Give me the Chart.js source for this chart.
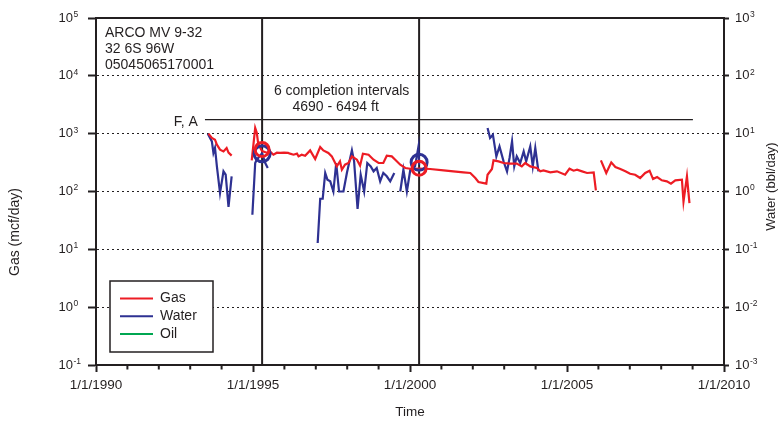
<!DOCTYPE html>
<html><head><meta charset="utf-8">
<script src="https://cdn.jsdelivr.net/npm/chart.js@4.4.1/dist/chart.umd.min.js"></script>
<style>html,body{margin:0;padding:0;background:#fff}canvas{display:block}</style>
</head><body>
<canvas id="c" width="780" height="428"></canvas>
<script>
const FONT = '"Liberation Sans", Arial, Helvetica, sans-serif';
const INK = '#231f20';
const RED = '#ed1c24';
const BLUE = '#2e3192';
const GREEN = '#00a651';

// ---- data (decimal years, values) ----
const gasYears = [1993.58,1993.69,1993.79,1993.85,1993.95,1994.06,1994.16,1994.22,1994.32,1994.6,
1994.96,1995.07,1995.12,1995.17,1995.29,1995.44,1995.54,1995.65,1995.76,1995.86,1995.99,1996.12,1996.18,1996.29,1996.40,1996.45,1996.55,1996.66,1996.82,1996.98,
1997.14,1997.24,1997.40,1997.51,1997.67,1997.77,1997.83,1997.93,1998.04,1998.15,1998.31,1998.41,1998.50,1998.68,1998.84,1999.00,1999.15,1999.26,1999.42,1999.53,
1999.69,1999.85,2000.06,2000.29,2000.64,2001.07,2001.38,2001.70,2001.92,2002.08,2002.18,2002.43,2002.47,2002.61,2002.66,2002.82,2002.98,2003.19,2003.40,2003.56,
2003.67,2003.83,2004.04,2004.15,2004.25,2004.47,2004.68,2004.94,2005.08,2005.21,2005.32,2005.48,2005.64,2005.85,2005.92,2006.00,
2006.08,2006.25,2006.41,2006.54,2006.70,2006.86,2007.01,2007.17,2007.33,2007.49,2007.63,2007.74,2007.87,2008.02,2008.18,2008.31,2008.45,2008.66,2008.71,2008.82,2008.90];
const gasValues = [1000,843,787,645,529,494,566,470,417,null,
345,1256,1040,645,500,469,494,433,469,464,469,464,451,433,451,405,433,416,514,365,
589,514,464,405,272,332,238,291,311,405,355,279,451,433,355,311,311,416,405,355,
291,255,245,250,245,232,223,214,209,171,146,137,195,245,345,332,311,303,303,272,
311,272,255,223,232,214,223,195,248,229,238,223,209,214,104.5,null,
345,209,319,265,245,223,203,195,171,209,229,164,178,156,150,137,156,160,67,183,63];

const waterYears = [1993.56,1993.69,1993.74,1993.79,1993.85,1993.95,1994.06,1994.13,1994.22,1994.32,1994.6,
1994.98,1995.07,1995.12,1995.29,1995.39,1995.47,1996.5,
1997.06,1997.14,1997.22,1997.30,1997.37,1997.46,1997.56,1997.65,1997.74,1997.88,1997.99,1998.15,1998.22,1998.33,1998.43,1998.54,1998.64,1998.75,1998.84,1998.94,1999.05,1999.15,1999.26,1999.37,1999.50,1999.6,
1999.69,1999.79,1999.90,2000.01,2000.16,2000.27,2000.29,2001.0,
2002.47,2002.55,2002.64,2002.75,2002.85,2002.98,2003.09,2003.17,2003.25,2003.32,2003.40,2003.51,2003.62,2003.70,2003.83,2003.91,2003.99,2004.09];
const waterValues = [10,7.36,4.64,5.66,2.72,0.94,2.23,1.95,0.54,1.83,null,
0.397,3.11,3.55,4.6,3.11,2.55,null,
0.129,0.75,0.75,2.09,1.60,1.50,1.0,3.11,1.0,1.0,2.09,5.14,3.32,0.498,1.95,1.0,3.11,2.72,2.23,2.55,1.50,2.09,1.83,1.50,2.09,null,
1.0,2.38,1.0,2.38,2.72,6.03,2.91,null,
12.56,8.43,9.61,4.05,6.03,3.32,2.23,3.80,7.36,2.72,4.05,3.11,4.94,3.32,6.03,2.72,5.66,2.23];

const oilYears = [];
const oilValues = [];

const markerYears = [1995.29, 2000.29];
const gasMarkerValues = [530, 252];
const waterMarkerValues = [4.5, 3.2];

const completionYears = [1995.29, 2000.29];
const faLineYears = [1993.47, 2009.01];
const faLineValue = 1746;

const xMajorYears = [1990, 1995, 2000, 2005, 2010];
const xTickLabels = ['1/1/1990', '1/1/1995', '1/1/2000', '1/1/2005', '1/1/2010'];
const gasTicks = [0.1, 1, 10, 100, 1000, 10000, 100000];
const gasTickExponents = ['-1', '0', '1', '2', '3', '4', '5'];
const waterTicks = [0.001, 0.01, 0.1, 1, 10, 100, 1000];
const waterTickExponents = ['-3', '-2', '-1', '0', '1', '2', '3'];
const tickBase = '10';

const wellInfoLines = ['ARCO MV 9-32', '32 6S 96W', '05045065170001'];
const completionLines = ['6 completion intervals', '4690 - 6494 ft'];
const faLabel = 'F, A';
const gasTitle = 'Gas (mcf/day)';
const waterTitle = 'Water (bbl/day)';
const legendNames = ['Gas', 'Water', 'Oil'];

const pts = (xs, ys) => xs.map((x, i) => ({x: x, y: ys[i]}));
const TICK_SIZE = 13;

const decor = {
  id: 'decor',
  afterDraw(chart) {
    const ctx = chart.ctx;
    const a = chart.chartArea;
    const xs = chart.scales.x;
    const ys = chart.scales.y;
    const y2 = chart.scales.y2;
    ctx.save();
    // top frame
    ctx.strokeStyle = INK; ctx.lineWidth = 2;
    ctx.beginPath(); ctx.moveTo(a.left - 1, a.top); ctx.lineTo(a.right + 1, a.top); ctx.stroke();
    // minor x ticks
    for (let yr = 1991; yr < 2010; yr++) {
      if (yr % 5 === 0) continue;
      const px = xs.getPixelForValue(yr);
      ctx.beginPath(); ctx.moveTo(px, a.bottom); ctx.lineTo(px, a.bottom + 4.5); ctx.stroke();
    }
    ctx.fillStyle = INK;
    // tick exponents
    ctx.font = TICK_SIZE + 'px ' + FONT;
    const baseW = ctx.measureText(tickBase).width;
    ctx.font = '8.5px ' + FONT;
    ctx.textBaseline = 'middle';
    ctx.textAlign = 'left';
    const lRight = ys.right - ys.options.grid.tickLength - ys.options.ticks.padding;
    gasTicks.forEach((v, i) => {
      ctx.fillText(gasTickExponents[i], lRight + 0.5, ys.getPixelForValue(v) - 3.5);
    });
    const rLeft = y2.left + y2.options.grid.tickLength + y2.options.ticks.padding + baseW;
    waterTicks.forEach((v, i) => {
      ctx.fillText(waterTickExponents[i], rLeft + 0.5, y2.getPixelForValue(v) - 3.5);
    });
    // axis titles
    ctx.textAlign = 'center'; ctx.textBaseline = 'middle';
    ctx.font = '13px ' + FONT;
    ctx.save();
    ctx.translate(771, (a.top + a.bottom) / 2 - 5);
    ctx.rotate(-Math.PI / 2);
    ctx.fillText(waterTitle, 0, 0);
    ctx.restore();
    ctx.font = '14px ' + FONT;
    ctx.save();
    ctx.translate(15.5, 232);
    ctx.rotate(-Math.PI / 2);
    ctx.fillText(gasTitle, 0, 0);
    ctx.restore();
    // well info
    ctx.font = '14px ' + FONT;
    ctx.textAlign = 'left';
    wellInfoLines.forEach((t, i) => ctx.fillText(t, a.left + 9, a.top + 15 + i * 16.3));
    // completion label
    const mid = (xs.getPixelForValue(completionYears[0]) + xs.getPixelForValue(completionYears[1])) / 2;
    ctx.textAlign = 'center';
    ctx.fillText(completionLines[0], mid + 1, 91);
    ctx.fillText(completionLines[1], mid - 5, 107);
    // F, A
    ctx.textAlign = 'right';
    ctx.fillText(faLabel, xs.getPixelForValue(faLineYears[0]) - 7, ys.getPixelForValue(faLineValue) + 2);
    // legend
    const bx = 110, by = 281, bw = 103, bh = 71;
    ctx.fillStyle = '#fff';
    ctx.fillRect(bx, by, bw, bh);
    ctx.lineWidth = 1.5; ctx.strokeStyle = INK;
    ctx.strokeRect(bx, by, bw, bh);
    ctx.textAlign = 'left';
    legendNames.forEach((name, i) => {
      const ds = chart.data.datasets.find(d => d.label === name);
      const yy = by + 17.5 + i * 17.8;
      ctx.strokeStyle = ds.borderColor; ctx.lineWidth = 2;
      ctx.beginPath(); ctx.moveTo(bx + 10, yy); ctx.lineTo(bx + 43, yy); ctx.stroke();
      ctx.fillStyle = INK;
      ctx.fillText(name, bx + 50, yy);
    });
    ctx.restore();
  }
};

const tickFont = {family: FONT, size: TICK_SIZE};
const fixVertical = w => s => { s.width = w; s.paddingTop = 0; s.paddingBottom = 0; };

new Chart(document.getElementById('c'), {
  type: 'line',
  data: {
    datasets: [
      {label: 'gasMarks', data: pts(markerYears, gasMarkerValues), yAxisID: 'y', showLine: false,
       pointRadius: 7, pointBorderWidth: 3, pointBorderColor: RED, pointBackgroundColor: 'rgba(0,0,0,0)', order: 0},
      {label: 'waterMarks', data: pts(markerYears, waterMarkerValues), yAxisID: 'y2', showLine: false,
       pointRadius: 8, pointBorderWidth: 3, pointBorderColor: BLUE, pointBackgroundColor: 'rgba(0,0,0,0)', order: 1},
      {label: 'Gas', data: pts(gasYears, gasValues), yAxisID: 'y', borderColor: RED, borderWidth: 2.2,
       pointRadius: 0, spanGaps: false, tension: 0, order: 2},
      {label: 'Water', data: pts(waterYears, waterValues), yAxisID: 'y2', borderColor: BLUE, borderWidth: 2.2,
       pointRadius: 0, spanGaps: false, tension: 0, order: 3},
      {label: 'Oil', data: pts(oilYears, oilValues), yAxisID: 'y2', borderColor: GREEN, borderWidth: 2,
       pointRadius: 0, order: 4},
      {label: 'completion1', data: [{x: completionYears[0], y: gasTicks[0]}, {x: completionYears[0], y: gasTicks[6]}],
       yAxisID: 'y', borderColor: INK, borderWidth: 2, pointRadius: 0, order: 5},
      {label: 'completion2', data: [{x: completionYears[1], y: gasTicks[0]}, {x: completionYears[1], y: gasTicks[6]}],
       yAxisID: 'y', borderColor: INK, borderWidth: 2, pointRadius: 0, order: 5},
      {label: 'FA', data: pts(faLineYears, [faLineValue, faLineValue]), yAxisID: 'y', borderColor: INK,
       borderWidth: 1.3, pointRadius: 0, order: 5}
    ]
  },
  options: {
    responsive: false,
    animation: false,
    devicePixelRatio: 1,
    layout: {padding: {top: 18, left: 0, right: 0, bottom: 0}},
    plugins: {legend: {display: false}, tooltip: {enabled: false}},
    scales: {
      x: {
        type: 'linear', position: 'bottom', min: 1990, max: 2010,
        afterBuildTicks: s => { s.ticks = xMajorYears.map(v => ({value: v})); },
        afterFit: s => { s.height = 63; },
        ticks: {callback: (v, i) => xTickLabels[i], maxRotation: 0, autoSkip: false, padding: 5, font: {family: FONT, size: 13.5}, color: INK},
        grid: {drawOnChartArea: false, drawTicks: true, tickLength: 7, tickWidth: 2, tickColor: INK},
        border: {display: true, color: INK, width: 2},
        title: {display: true, text: 'Time', color: INK, font: {family: FONT, size: 13.5}, padding: {top: 0, bottom: 8}}
      },
      y: {
        type: 'logarithmic', position: 'left', min: gasTicks[0], max: gasTicks[6],
        afterBuildTicks: s => { s.ticks = gasTicks.map(v => ({value: v})); },
        afterFit: fixVertical(96),
        ticks: {callback: () => tickBase, autoSkip: false, padding: 15, font: tickFont, color: INK},
        grid: {color: INK, lineWidth: 1, drawTicks: true, tickLength: 8, tickWidth: 2, tickColor: INK, tickBorderDash: []},
        border: {display: true, color: INK, width: 2, dash: [2, 3]},
        title: {display: false}
      },
      y2: {
        type: 'logarithmic', position: 'right', min: waterTicks[0], max: waterTicks[6],
        afterBuildTicks: s => { s.ticks = waterTicks.map(v => ({value: v})); },
        afterFit: fixVertical(56),
        ticks: {callback: () => tickBase, autoSkip: false, padding: 6, font: tickFont, color: INK},
        grid: {drawOnChartArea: false, drawTicks: true, tickLength: 5, tickWidth: 2, tickColor: INK},
        border: {display: true, color: INK, width: 2},
        title: {display: false}
      }
    }
  },
  plugins: [decor]
});
</script>
</body></html>
